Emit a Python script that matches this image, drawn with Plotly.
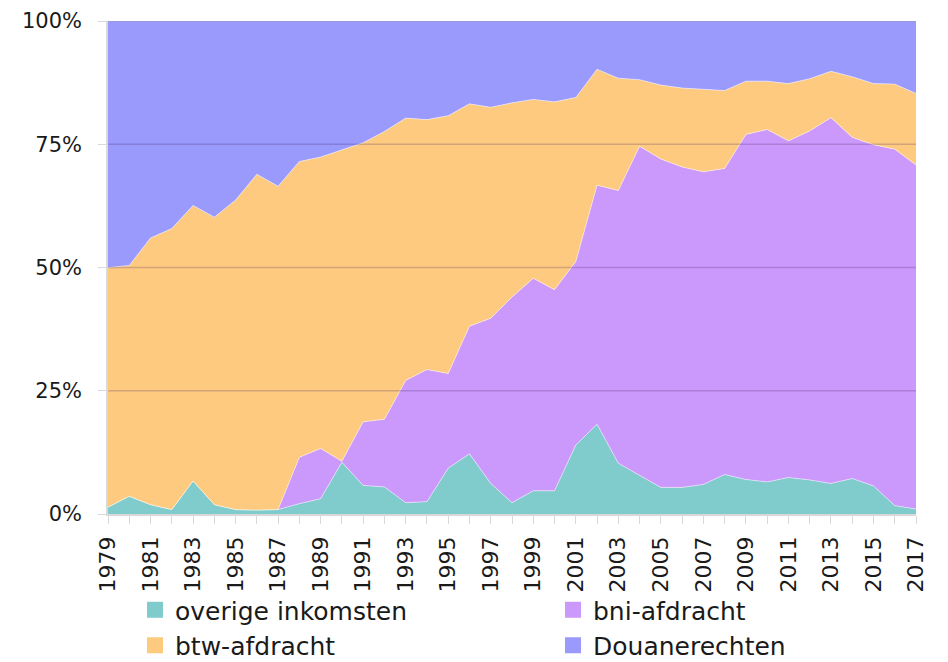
import plotly.graph_objects as go

years = list(range(1979, 2018))

overige = [1.4, 3.6, 1.9, 0.9, 6.7, 1.9, 0.9, 0.8, 0.9, 2.1, 3.1, 10.5, 5.8, 5.5, 2.3, 2.5, 9.3, 12.2, 6.2, 2.3,
           4.7, 4.7, 14.0, 18.2, 10.3, 7.9, 5.4, 5.4, 6.0, 8.0, 7.0, 6.5, 7.4, 6.9, 6.2, 7.2, 5.7, 1.7, 1.0]
bni = [0, 0, 0, 0, 0, 0, 0, 0, 0, 9.4, 10.2, 0.2, 12.9, 13.7, 24.8, 26.8, 19.2, 25.9, 33.5, 41.7,
       43.1, 40.8, 37.2, 48.5, 55.3, 66.7, 66.6, 65.0, 63.4, 62.1, 70.0, 71.5, 68.3, 70.8, 74.2, 69.2, 69.2, 72.3, 69.8]
btw = [48.6, 46.8, 54.1, 57.0, 55.9, 58.3, 62.8, 68.1, 65.6, 60.0, 59.1, 63.1, 56.6, 58.4, 53.2, 50.7, 52.3, 45.1, 42.8, 39.4,
       36.3, 38.1, 33.3, 23.5, 22.8, 13.5, 15.0, 16.0, 16.7, 15.8, 10.8, 9.8, 11.6, 10.6, 9.4, 12.3, 12.4, 13.2, 14.5]
douane = [50.0, 49.6, 44.0, 42.1, 37.4, 39.8, 36.3, 31.1, 33.5, 28.5, 27.6, 26.2, 24.7, 22.4, 19.7, 20.0, 19.2, 16.8, 17.5, 16.6,
          15.9, 16.4, 15.5, 9.8, 11.6, 11.9, 13.0, 13.6, 13.9, 14.1, 12.2, 12.2, 12.7, 11.7, 10.2, 11.3, 12.7, 12.8, 14.7]

series = [
    ("overige inkomsten", overige, "#80CBCB", "legend"),
    ("bni-afdracht", bni, "#CB99FB", "legend2"),
    ("btw-afdracht", btw, "#FDCA80", "legend"),
    ("Douanerechten", douane, "#9A9AFD", "legend2"),
]

y_ticks = [0, 25, 50, 75, 100]
y_labels = ["0%", "25%", "50%", "75%", "100%"]
x_tick_years = list(range(1979, 2018, 2))

font_family = "DejaVu Sans"
W, H = 948, 662
OFF = 8  # page body margin offset

fig = go.Figure()
for name, vals, col, lg in series:
    fig.add_trace(go.Scatter(
        x=years, y=vals, name=name, mode="lines",
        stackgroup="one", groupnorm="percent",
        line=dict(color="rgba(255,255,255,0.6)", width=0.8),
        fillcolor=col, showlegend=False, hoverinfo="x+y+name",
    ))

# legend entries (square swatches)
for name, vals, col, lg in series:
    fig.add_trace(go.Scatter(
        x=[None], y=[None], name=name, mode="markers",
        marker=dict(symbol="square", size=16, color=col),
        legend=lg, showlegend=True,
    ))

for v in y_ticks[1:]:
    fig.add_shape(type="line", xref="paper", yref="y", x0=0, x1=1, y0=v, y1=v,
                  line=dict(color="rgba(60,30,90,0.22)", width=1.5), layer="above")

legend_common = dict(orientation="v", xanchor="left", yanchor="top",
                     xref="container", yref="container",
                     font=dict(size=25, family=font_family, color="#1a1a1a"),
                     itemwidth=30, traceorder="normal", bgcolor="rgba(0,0,0,0)")

fig.update_layout(
    width=W, height=H,
    margin=dict(l=108 - OFF, r=32 + OFF, t=21 - OFF, b=148 + OFF, autoexpand=False),
    plot_bgcolor="white", paper_bgcolor="white",
    font=dict(family=font_family, color="#1a1a1a", size=21),
    showlegend=True,
    legend=dict(x=127 / W, y=1 - 579 / H, **legend_common),
    legend2=dict(x=545 / W, y=1 - 579 / H, **legend_common),
    xaxis=dict(range=[1979, 2017], tickmode="array", tickvals=x_tick_years,
               ticktext=[str(y) for y in x_tick_years], tickangle=-90,
               showgrid=False, showline=True, linecolor="#d9d9d9", linewidth=1.5,
               ticks="outside", ticklen=8, tickcolor="#d9d9d9",
               minor=dict(tickmode="linear", tick0=1979, dtick=1, ticks="outside", ticklen=8, tickcolor="#d9d9d9"),
               tickfont=dict(size=22), zeroline=False, ticklabelstandoff=4),
    yaxis=dict(range=[0, 100], tickmode="array", tickvals=y_ticks, ticktext=y_labels,
               showgrid=False, showline=True, linecolor="#d9d9d9", linewidth=1.5,
               ticks="outside", ticklen=8, tickcolor="#d9d9d9",
               tickfont=dict(size=21), zeroline=False, ticklabelstandoff=12),
)

fig.write_html("out.html")
